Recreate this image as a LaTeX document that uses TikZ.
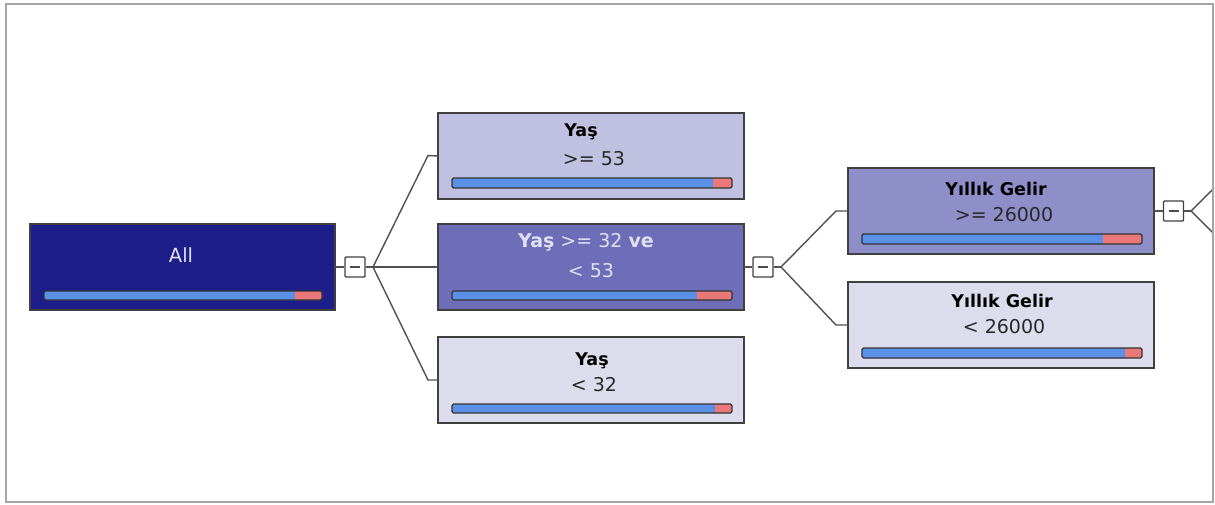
\documentclass[tikz,border=0pt]{standalone}
\usepackage{fontspec}
\setmainfont{DejaVu Sans}
\definecolor{navy}{RGB}{30,30,138}
\definecolor{lav1}{RGB}{192,192,224}
\definecolor{lav2}{RGB}{110,110,184}
\definecolor{lav3}{RGB}{220,220,236}
\definecolor{lav4}{RGB}{142,142,200}
\definecolor{barblue}{RGB}{90,145,230}
\definecolor{barred}{RGB}{235,120,120}
\definecolor{edgegray}{RGB}{80,80,80}
\definecolor{framegray}{RGB}{165,165,165}
\definecolor{textgray}{RGB}{40,40,40}
\definecolor{lighttext}{RGB}{225,225,245}
\tikzset{
  treebox/.style={draw=black!75, line width=1.3pt, inner sep=0pt, outer sep=0pt,
    minimum width=306pt, minimum height=86pt, anchor=north west},
  expander/.style={draw=black!75, fill=white, line width=1.4pt, inner sep=0pt,
    minimum width=20pt, minimum height=20pt, rounded corners=1pt},
  connector/.style={draw=edgegray, line width=1.4pt},
  titletext/.style={anchor=base, inner sep=0pt, font=\fontsize{17.5}{20}\selectfont\bfseries},
  valuetext/.style={anchor=base, inner sep=0pt, text=textgray, font=\fontsize{19}{22}\selectfont},
  barframe/.style={draw=black!80, line width=1.2pt, rounded corners=1.5pt}
}
% probability bar: left, top, red start, right, bottom
\newcommand\probbar[5]{%
  \fill[barblue, rounded corners=1.5pt] (#1,#2) rectangle (#4,#5);
  \fill[barred] (#3,#2) rectangle (#4,#5);
  \draw[barframe] (#1,#2) rectangle (#4,#5);}
\begin{document}
\begin{tikzpicture}[x=1pt, y=-1pt]
\useasboundingbox (0,0) rectangle (1215,504);

% tree nodes
\node[treebox, fill=navy, minimum width=305pt] (all) at (30,224) {};
\node[treebox, fill=lav1] (old) at (438,113) {};
\node[treebox, fill=lav2] (mid) at (438,224) {};
\node[treebox, fill=lav3] (young) at (438,337) {};
\node[treebox, fill=lav4] (hi) at (848,168) {};
\node[treebox, fill=lav3] (lo) at (848,282) {};

% labels
\node[anchor=base, inner sep=0pt, text=lighttext, font=\fontsize{19.5}{22}\selectfont] (allt) at (181,262) {All};
\node[titletext] (oldt) at (581,136) {Yaş};
\node[valuetext] (oldv) at (594,165) {>= 53};
\node[anchor=base, inner sep=0pt, text=lighttext, font=\fontsize{19}{22}\selectfont] (midt) at (586,247) {\textbf{Yaş} >= 32 \textbf{ve}};
\node[anchor=base, inner sep=0pt, text=lighttext, font=\fontsize{19}{22}\selectfont] (midv) at (591,277) {< 53};
\node[titletext] (youngt) at (592,365) {Yaş};
\node[valuetext] (youngv) at (594,391) {< 32};
\node[titletext] (hit) at (996,195) {Yıllık Gelir};
\node[valuetext] (hiv) at (1004,221) {>= 26000};
\node[titletext] (lot) at (1002,307) {Yıllık Gelir};
\node[valuetext] (lov) at (1004,333) {< 26000};

% probability bars
\probbar{44}{291}{295}{322}{300}
\probbar{452}{178}{713}{732}{188}
\probbar{452}{291}{697}{732}{300}
\probbar{452}{404}{715}{732}{413}
\probbar{862}{234}{1103}{1142}{244}
\probbar{862}{348}{1125}{1142}{358}

% expand/collapse buttons
\node[expander] (e0) at (355,267) {};
\node[expander] (e1) at (763,267) {};
\node[expander] (e2) at (1173.5,211) {};
\foreach \e in {e0,e1,e2}
  \draw[black!70, line width=1.3pt] ([xshift=-5pt]\e.center) -- ([xshift=5pt]\e.center);

% branch points
\coordinate (f0) at (373,267);
\coordinate (f1) at (781,267);
\coordinate (f2) at (1191,211);
\coordinate (up2) at (1213,189);
\coordinate (dn2) at (1213,233);

% connectors
\draw[connector] (all.east) -- (e0.west);
\draw[connector] (e0.east) -- (f0);
\draw[connector] (f0) -- (428,155.5) -- (old.west);
\draw[connector] (f0) -- (mid.west);
\draw[connector] (f0) -- (428,380) -- (young.west);
\draw[connector] (mid.east) -- (e1.west);
\draw[connector] (e1.east) -- (f1);
\draw[connector] (f1) -- (836,211) -- (hi.west);
\draw[connector] (f1) -- (836,325) -- (lo.west);
\draw[connector] (hi.east) -- (e2.west);
\draw[connector] (e2.east) -- (f2);
\draw[connector] (f2) -- (up2);
\draw[connector] (f2) -- (dn2);

% outer frame
\draw[framegray, line width=1.5pt] (6,4) rectangle (1213,502);
\end{tikzpicture}
\end{document}
